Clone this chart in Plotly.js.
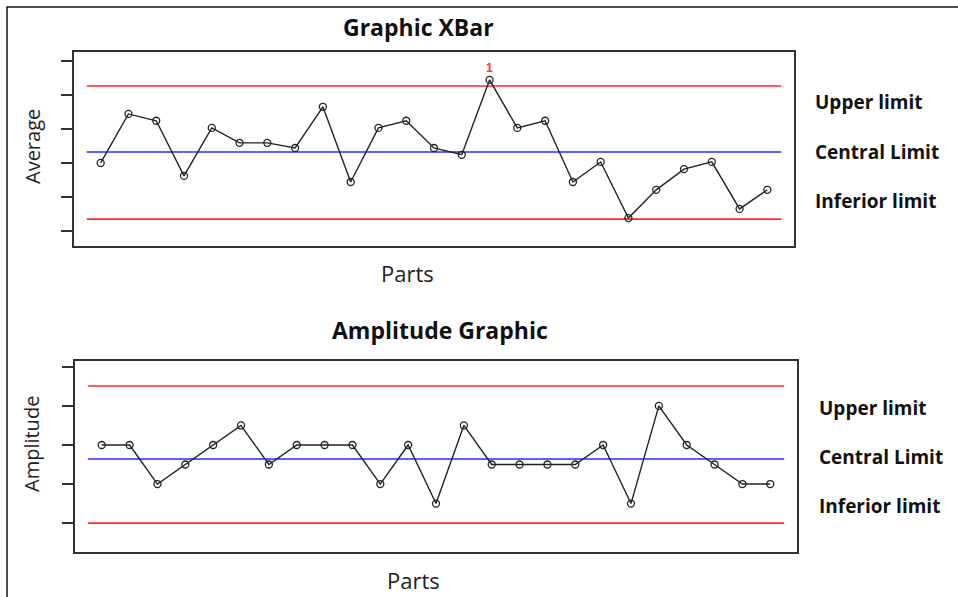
<!DOCTYPE html>
<html>
<head>
<meta charset="utf-8">
<script src="https://cdn.plot.ly/plotly-3.0.1.min.js"></script>
<style>html,body{margin:0;padding:0;background:#fff;}#chart{width:958px;height:597px;}</style>
</head>
<body>
<div id="chart"></div>
<script>
// Data
const parts = Array.from({length: 25}, (_, i) => i + 1);
const xbarValues = [2.0, 3.44, 3.24, 1.62, 3.03, 2.59, 2.59, 2.44, 3.65, 1.44, 3.03, 3.24, 2.44, 2.24, 4.44, 3.03, 3.24, 1.44, 2.03, 0.38, 1.21, 1.82, 2.03, 0.65, 1.21];
const xbarLimits = {upper: 4.26, central: 2.32, inferior: 0.35};
const ampValues = [2.0, 2.0, 1.0, 1.5, 2.0, 2.5, 1.5, 2.0, 2.0, 2.0, 1.0, 2.0, 0.5, 2.5, 1.5, 1.5, 1.5, 1.5, 2.0, 0.5, 3.0, 2.0, 1.5, 1.0, 1.0];
const ampLimits = {upper: 3.51, central: 1.64, inferior: 0.0};
const xbarTicks = [0, 1, 2, 3, 4, 5];
const ampTicks = [0, 1, 2, 3, 4];
const limitLabels = ["Upper limit", "Central Limit", "Inferior limit"];
const outOfControl = {index: 15, label: "1"};
const limitSpan = [0.5, 25.5];

const W = 958, H = 597;
const px = v => v / W;
const py = v => 1 - v / H;

function limitTrace(y, color, xa, ya) {
  return {x: limitSpan, y: [y, y], mode: 'lines', xaxis: xa, yaxis: ya,
          line: {color: color, width: 1.6}, hoverinfo: 'skip', showlegend: false};
}
function dataTrace(vals, xa, ya) {
  return {x: parts, y: vals, mode: 'lines+markers', xaxis: xa, yaxis: ya,
          line: {color: '#222', width: 1.4},
          marker: {symbol: 'circle-open', size: 7, color: '#222', line: {width: 1.3, color: '#222'}},
          showlegend: false};
}

const traces = [
  limitTrace(xbarLimits.upper, '#ff2a2a', 'x', 'y'),
  limitTrace(xbarLimits.central, '#2a2aff', 'x', 'y'),
  limitTrace(xbarLimits.inferior, '#ff2a2a', 'x', 'y'),
  dataTrace(xbarValues, 'x', 'y'),
  limitTrace(ampLimits.upper, '#ff2a2a', 'x2', 'y2'),
  limitTrace(ampLimits.central, '#2a2aff', 'x2', 'y2'),
  limitTrace(ampLimits.inferior, '#ff2a2a', 'x2', 'y2'),
  dataTrace(ampValues, 'x2', 'y2')
];

const frameAxis = {showline: true, mirror: true, linecolor: '#333', linewidth: 2, showgrid: false, zeroline: false};

const titleFont = {family: 'Open Sans, sans-serif', size: 23, color: '#111'};
const labelFont = {family: 'Open Sans, sans-serif', size: 19, color: '#111'};
const axFont = {family: 'Open Sans, sans-serif', size: 22, color: '#222'};
const vaxFont = {family: 'Open Sans, sans-serif', size: 20, color: '#222'};

const annotations = [
  {xref: 'paper', yref: 'paper', x: px(418), y: py(27), text: '<b>Graphic XBar</b>', showarrow: false, font: titleFont, xanchor: 'center', yanchor: 'middle'},
  {xref: 'paper', yref: 'paper', x: px(440), y: py(330), text: '<b>Amplitude Graphic</b>', showarrow: false, font: titleFont, xanchor: 'center', yanchor: 'middle'},
  {xref: 'paper', yref: 'paper', x: px(407), y: py(273), text: 'Parts', showarrow: false, font: axFont, xanchor: 'center', yanchor: 'middle'},
  {xref: 'paper', yref: 'paper', x: px(413), y: py(580), text: 'Parts', showarrow: false, font: axFont, xanchor: 'center', yanchor: 'middle'},
  {xref: 'paper', yref: 'paper', x: px(32), y: py(146), text: 'Average', textangle: -90, showarrow: false, font: vaxFont, xanchor: 'center', yanchor: 'middle'},
  {xref: 'paper', yref: 'paper', x: px(31), y: py(444), text: 'Amplitude', textangle: -90, showarrow: false, font: vaxFont, xanchor: 'center', yanchor: 'middle'},
  {xref: 'x', yref: 'y', x: outOfControl.index, y: xbarValues[outOfControl.index - 1], yshift: 12, text: '<b>' + outOfControl.label + '</b>', showarrow: false, font: {family: 'Arial, sans-serif', size: 12, color: '#ff2a2a'}},
];
const topLabelY = [102, 152, 201];
const botLabelY = [408, 457, 506];
limitLabels.forEach((t, i) => {
  annotations.push({xref: 'paper', yref: 'paper', x: px(813), y: py(topLabelY[i]), text: '<b>' + t + '</b>', showarrow: false, font: labelFont, xanchor: 'left', yanchor: 'middle'});
  annotations.push({xref: 'paper', yref: 'paper', x: px(817), y: py(botLabelY[i]), text: '<b>' + t + '</b>', showarrow: false, font: labelFont, xanchor: 'left', yanchor: 'middle'});
});

const layout = {
  width: W, height: H,
  margin: {l: 0, r: 0, t: 0, b: 0},
  paper_bgcolor: '#fff', plot_bgcolor: '#fff',
  showlegend: false,
  xaxis: Object.assign({}, frameAxis, {domain: [px(74), px(794)], range: [0.04, 25.96], showticklabels: false, ticks: ''}),
  yaxis: Object.assign({}, frameAxis, {domain: [py(246), py(52)], range: [-0.44, 5.26], tickvals: xbarTicks, ticks: 'outside', ticklen: 11, tickwidth: 2, tickcolor: '#333', showticklabels: false}),
  xaxis2: Object.assign({}, frameAxis, {domain: [px(75), px(797)], range: [0.04, 25.96], showticklabels: false, ticks: '', anchor: 'y2'}),
  yaxis2: Object.assign({}, frameAxis, {domain: [py(552), py(361)], range: [-0.74, 4.15], tickvals: ampTicks, ticks: 'outside', ticklen: 11, tickwidth: 2, tickcolor: '#333', showticklabels: false, anchor: 'x2'}),
  annotations: annotations,
  shapes: [
    {type: 'path', xref: 'paper', yref: 'paper', path: `M ${px(7)} 0 L ${px(7)} ${py(7)} L 1 ${py(7)}`, line: {color: '#111', width: 1.5}}
  ]
};

Plotly.newPlot('chart', traces, layout, {displayModeBar: false, staticPlot: true});
</script>
</body>
</html>
